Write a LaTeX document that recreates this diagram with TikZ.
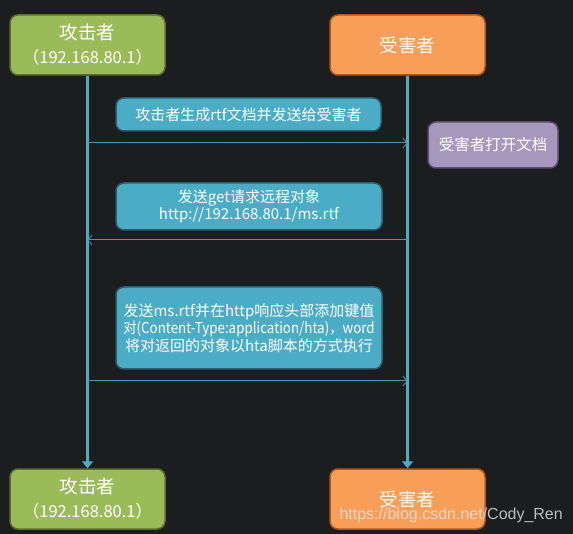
\documentclass[tikz,border=0pt]{standalone}
\usepackage{fontspec}
\usepackage{graphicx}
\setmainfont{Noto Sans CJK SC}
\newfontfamily\wmfont{Liberation Sans}
\usetikzlibrary{arrows.meta}
\definecolor{bgc}{HTML}{1C1D1F}
\definecolor{grnf}{HTML}{9BBB59}
\definecolor{grnd}{HTML}{5A7030}
\definecolor{orgf}{HTML}{F79E58}
\definecolor{orgd}{HTML}{B55A16}
\definecolor{bluf}{HTML}{4BACC6}
\definecolor{blud}{HTML}{2B5E6C}
\definecolor{purf}{HTML}{A697BC}
\definecolor{purd}{HTML}{5C4A73}
\definecolor{msgl}{HTML}{4E95A8}
\tikzset{
  actorbox/.style={rectangle, rounded corners=8pt, line width=1.5pt, text=white,
    minimum width=155pt, minimum height=60pt, align=center, inner sep=0pt,
    font=\fontsize{18.5}{24}\selectfont},
  atkbox/.style={actorbox, fill=grnf, draw=grnd},
  vicbox/.style={actorbox, fill=orgf, draw=orgd},
  msgbox/.style={rectangle, rounded corners=8pt, line width=1.5pt, fill=bluf, draw=blud,
    text=white, align=center, inner sep=0pt, font=\fontsize{15}{17.5}\selectfont},
  notebox/.style={rectangle, rounded corners=8pt, line width=1.5pt, fill=purf, draw=purd,
    text=white, align=center, inner sep=0pt, font=\fontsize{15.5}{17}\selectfont},
  lifeline/.style={draw=bluf, line width=2.6pt, -{Triangle[length=7pt,width=11pt]}},
  msgarrow/.style={draw=msgl, line width=1pt, -{Straight Barb[length=4pt,width=10pt,line width=0.8pt]}},
}
\begin{document}
\begin{tikzpicture}[x=1pt,y=-1pt]
\fill[bgc] (0,0) rectangle (573,534);
\useasboundingbox (0,0) rectangle (573,534);

\node[atkbox] (atk) at (87.5,45) {攻击者\\\fontsize{16.5}{20}\selectfont （192.168.80.1）};
\node[vicbox] (vic) at (407.5,45) {受害者};
\node[atkbox] (atkB) at (87.5,499) {攻击者\\\fontsize{16.5}{20}\selectfont （192.168.80.1）};
\node[vicbox] (vicB) at (407.5,499) {受害者};

\draw[lifeline] (atk.south) -- (atkB.north);
\draw[lifeline] (vic.south) -- (vicB.north);

\node[msgbox, minimum width=265pt, minimum height=33pt] (m1) at (248.5,114.5) {攻击者生成rtf文档并发送给受害者};
\node[notebox, minimum width=130pt, minimum height=46pt] (note) at (493,145) {受害者打开文档};
\node[msgbox, minimum width=266pt, minimum height=47pt] (m2) at (249,206.5) {发送get请求远程对象\\http://192.168.80.1/ms.rtf};
\node[msgbox, minimum width=266pt, minimum height=82pt] (m3) at (249,328) {发送ms.rtf并在http响应头部添加键值\\\scalebox{0.89}[1]{对(Content-Type:application/hta)，word}\\将对返回的对象以hta脚本的方式执行};

\coordinate (a1) at (atk.south |- 0,143);
\coordinate (v1) at (vic.south |- 0,143);
\coordinate (a2) at (atk.south |- 0,240);
\coordinate (v2) at (vic.south |- 0,240);
\coordinate (a3) at (atk.south |- 0,381);
\coordinate (v3) at (vic.south |- 0,381);
\draw[msgarrow] (a1) -- (v1);
\draw[msgarrow] (v2) -- (a2);
\draw[msgarrow] (a3) -- (v3);

\node[anchor=east, text=white!80!gray, opacity=0.8, font=\wmfont\fontsize{16}{16}\selectfont, inner sep=0pt] (wm) at (563,515) {https://blog.csdn.net/Cody\_Ren};
\end{tikzpicture}
\end{document}
